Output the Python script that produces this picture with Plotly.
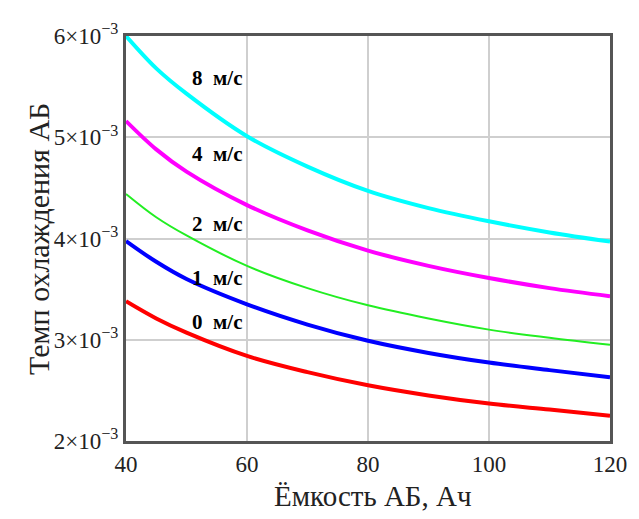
import plotly.graph_objects as go

capacity = [40, 45, 50, 60, 70, 80, 90, 100, 110, 120]
rate_8 = [6.00, 5.68, 5.43, 5.01, 4.71, 4.47, 4.30, 4.17, 4.06, 3.97]
rate_4 = [5.16, 4.88, 4.66, 4.33, 4.08, 3.88, 3.73, 3.61, 3.51, 3.43]
rate_2 = [4.44, 4.21, 4.03, 3.73, 3.51, 3.34, 3.21, 3.10, 3.02, 2.95]
rate_1 = [3.975, 3.77, 3.60, 3.35, 3.15, 2.99, 2.87, 2.775, 2.70, 2.63]
rate_0 = [3.38, 3.21, 3.07, 2.84, 2.68, 2.55, 2.45, 2.37, 2.31, 2.25]

series = [
    ("8", rate_8, "#00FFFF", 4, 5.59),
    ("4", rate_4, "#FF00FF", 4, 4.83),
    ("2", rate_2, "#22EE22", 2, 4.14),
    ("1", rate_1, "#0000FF", 4, 3.61),
    ("0", rate_0, "#FF0000", 4, 3.18),
]

y_ticks = [2, 3, 4, 5, 6]
y_ticktext = [f"{v}×10<sup>−3</sup>" for v in y_ticks]
x_ticks = [40, 60, 80, 100, 120]

serif = "Liberation Serif, Times New Roman, serif"

fig = go.Figure()
for speed, vals, color, width, ly in series:
    fig.add_trace(go.Scatter(
        x=capacity, y=[v * 1e-3 for v in vals], mode="lines",
        line=dict(color=color, width=width, shape="spline", smoothing=1.0),
        name=f"{speed} м/с", showlegend=False))
    fig.add_annotation(x=55, y=ly * 1e-3, text=f"<b>{speed}&nbsp;&nbsp;м/с</b>",
                       showarrow=False,
                       font=dict(family=serif, size=21, color="black"))

fig.update_layout(
    width=631, height=511,
    margin=dict(l=118, r=26, t=22, b=78),
    paper_bgcolor="white", plot_bgcolor="white",
    font=dict(family=serif, color="#222"),
    xaxis=dict(range=[40, 120], tickvals=x_ticks, showgrid=True,
               gridcolor="#cfcfcf", gridwidth=2, showline=True, linecolor="#555",
               linewidth=3, mirror=True, ticks="", zeroline=False,
               tickfont=dict(family=serif, size=23, color="#222")),
    yaxis=dict(range=[2e-3, 6e-3], tickvals=[v * 1e-3 for v in y_ticks],
               ticktext=y_ticktext, showgrid=True, gridcolor="#cfcfcf", gridwidth=2,
               showline=True, linecolor="#555", linewidth=3, mirror=True,
               ticks="", zeroline=False,
               tickfont=dict(family=serif, size=23, color="#222")),
)
fig.add_annotation(xref="paper", yref="paper", x=0.511, y=-0.136, yanchor="middle",
                   text="Ёмкость АБ, Ач", showarrow=False,
                   font=dict(family=serif, size=29, color="#222"))
fig.add_annotation(xref="paper", yref="paper", x=-0.181, y=0.5, xanchor="center",
                   yanchor="middle",
                   text="Темп охлаждения АБ", showarrow=False, textangle=-90,
                   font=dict(family=serif, size=30, color="#222"))

fig.write_html("out.html")
